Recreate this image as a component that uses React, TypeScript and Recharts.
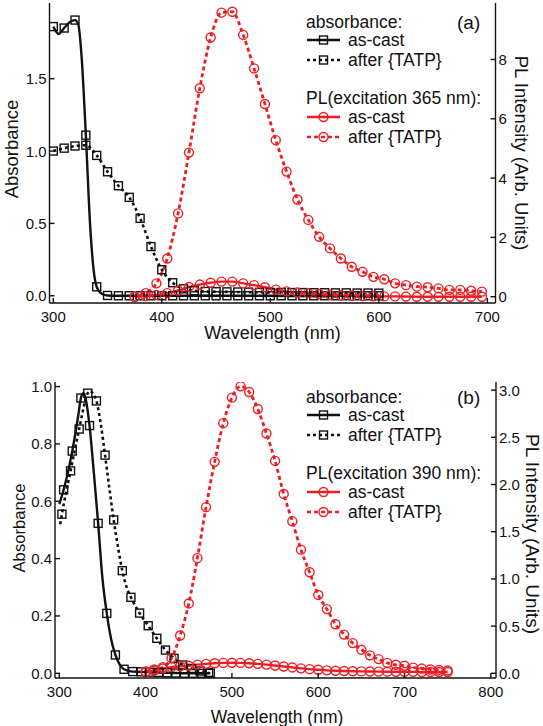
import React from 'react';
import { ComposedChart, Line, XAxis, YAxis } from 'recharts';

type Pt = [number, number];

const FONT = '"Liberation Sans", Arial, Helvetica, sans-serif';
const INK = '#111111';
const RED = '#ee1d23';

// ---------- panel (a) ----------
const aWaveTicks = [300, 400, 500, 600, 700];
const aAbsTicks = [0, 0.5, 1.0, 1.5];
const aPlTicks = [0, 2, 4, 6, 8];

const aAbsCast: Pt[] = [
  [300, 1.86], [305, 1.81], [310, 1.85], [315, 1.89], [320, 1.905], [323, 1.875],
  [326, 1.66], [330, 1.11], [334, 0.48], [337, 0.19], [340, 0.062], [345, 0.012],
  [350, 0.002], [360, 0], [370, 0], [380, 0], [390, 0], [400, 0], [410, 0], [420, 0],
  [430, 0], [440, 0], [450, 0], [460, 0], [470, 0], [480, 0], [490, 0], [500, 0],
  [510, 0], [520, 0], [530, 0], [540, 0], [550, 0], [560, 0], [570, 0], [580, 0],
  [590, 0], [600, 0],
];
const aAbsTatp: Pt[] = [
  [300, 1.0], [310, 1.02], [320, 1.035], [330, 1.04], [340, 0.97], [350, 0.857],
  [360, 0.76], [370, 0.68], [380, 0.535], [390, 0.34], [400, 0.18], [410, 0.09],
  [420, 0.048], [430, 0.035], [440, 0.03], [450, 0.028], [460, 0.027], [470, 0.026],
  [480, 0.025], [490, 0.024], [500, 0.023], [510, 0.023], [520, 0.022], [530, 0.022],
  [540, 0.021], [550, 0.021], [560, 0.02], [570, 0.02], [580, 0.019], [590, 0.019],
  [600, 0.018],
];
const aPlCast: Pt[] = [
  [375, 0], [385, 0.02], [395, 0.06], [405, 0.12], [415, 0.21], [425, 0.33], [435, 0.41],
  [445, 0.47], [455, 0.51], [465, 0.51], [475, 0.45], [485, 0.39], [495, 0.32],
  [505, 0.24], [515, 0.18], [525, 0.14], [535, 0.12], [545, 0.09], [555, 0.06],
  [565, 0.04], [575, 0.03], [585, 0.02], [595, 0.015], [605, 0.01], [615, 0.01],
  [625, 0.005], [635, 0], [645, 0], [655, 0], [665, 0], [675, 0], [685, 0], [695, 0],
];
const aPlTatp: Pt[] = [
  [375, 0], [385, 0.12], [395, 0.45], [405, 1.29], [415, 2.81], [425, 4.86], [435, 7.03],
  [445, 8.74], [455, 9.58], [465, 9.61], [475, 8.83], [485, 7.7], [495, 6.5],
  [505, 5.28], [515, 4.22], [525, 3.28], [535, 2.59], [545, 2.02], [555, 1.63],
  [565, 1.29], [575, 1.01], [585, 0.84], [595, 0.67], [605, 0.59], [615, 0.45],
  [625, 0.39], [635, 0.34], [645, 0.32], [655, 0.28], [665, 0.23], [675, 0.23],
  [685, 0.2], [695, 0.17],
];

// ---------- panel (b) ----------
const bWaveTicks = [300, 400, 500, 600, 700, 800];
const bAbsTicks = [0, 0.2, 0.4, 0.6, 0.8, 1.0];
const bPlTicks = [0, 0.5, 1.0, 1.5, 2.0, 2.5, 3.0];

const bAbsCast: Pt[] = [
  [300, 0.59], [305, 0.64], [315, 0.775], [322, 0.9], [325, 0.96], [328, 0.977],
  [331, 0.95], [335, 0.864], [340, 0.7], [345, 0.523], [350, 0.33], [355, 0.209],
  [360, 0.12], [365, 0.064], [370, 0.03], [375, 0.014], [385, 0.006], [395, 0.005],
  [405, 0.004], [415, 0.003], [425, 0.002], [435, 0.001], [445, 0], [455, 0],
  [465, 0], [475, 0],
];
const bAbsTatp: Pt[] = [
  [301, 0.52], [303, 0.555], [313, 0.706], [323, 0.852], [330, 0.95], [333, 0.977],
  [336, 0.985], [339, 0.975], [343, 0.95], [348, 0.87], [353, 0.761], [358, 0.645],
  [363, 0.535], [368, 0.44], [373, 0.358], [378, 0.3], [383, 0.265], [393, 0.21],
  [403, 0.166], [413, 0.122], [423, 0.081], [433, 0.052], [443, 0.029], [453, 0.017],
  [463, 0.008], [473, 0.003],
];
const bPlCast: Pt[] = [
  [400, 0.01], [410, 0.03], [420, 0.05], [430, 0.065], [440, 0.074], [450, 0.08],
  [460, 0.092], [470, 0.1], [480, 0.106], [490, 0.11], [500, 0.112], [510, 0.11],
  [520, 0.106], [530, 0.1], [540, 0.092], [550, 0.082], [560, 0.072], [570, 0.062],
  [580, 0.052], [590, 0.044], [600, 0.037], [610, 0.031], [620, 0.027], [630, 0.024],
  [640, 0.022], [650, 0.02], [660, 0.019], [670, 0.018], [680, 0.017], [690, 0.016],
  [700, 0.015], [710, 0.015], [720, 0.014], [730, 0.014], [740, 0.013], [750, 0.013],
];
const bPlTatp: Pt[] = [
  [400, 0.02], [410, 0.04], [420, 0.065], [430, 0.16], [440, 0.4], [450, 0.74],
  [460, 1.22], [470, 1.76], [480, 2.24], [490, 2.65], [500, 2.92], [510, 3.04],
  [520, 2.98], [530, 2.8], [540, 2.54], [550, 2.25], [560, 1.9], [570, 1.61],
  [580, 1.31], [590, 1.07], [600, 0.83], [610, 0.68], [620, 0.52], [630, 0.41],
  [640, 0.32], [650, 0.25], [660, 0.19], [670, 0.15], [680, 0.11], [690, 0.09],
  [700, 0.08], [710, 0.06], [720, 0.05], [730, 0.04], [740, 0.035], [750, 0.03],
];

const toRows = (pts: Pt[]) => pts.map(([x, y]) => ({ x, y }));

// markers only on the measured points (nm % 10 === rest)
const squareDot = (rest: number) => (p: any) => {
  const show = Math.round(p.payload.x) % 10 === rest;
  if (!show || p.cx == null || p.cy == null) return <g key={`s${p.index}`} />;
  return (
    <rect key={`s${p.index}`} x={p.cx - 4} y={p.cy - 4} width={8} height={8}
      fill="none" stroke={INK} strokeWidth={1.4} />
  );
};
const circleDot = (p: any) => {
  if (p.cx == null || p.cy == null) return <g key={`c${p.index}`} />;
  return <circle key={`c${p.index}`} cx={p.cx} cy={p.cy} r={4.5} fill="none" stroke={RED} strokeWidth={1.4} />;
};

const tickFont = { fontSize: 15, fontFamily: FONT, fill: INK };

const makeTick = (side: 'left' | 'right' | 'bottom', fmt: (v: number) => string) => (p: any) => {
  const { x, y, payload, index } = p;
  const label = fmt(payload.value);
  if (side === 'bottom') {
    return (
      <g key={`t${index}`}>
        <line x1={x} x2={x} y1={y} y2={y - 5} stroke={INK} strokeWidth={1.4} />
        <text x={x} y={y + 13} textAnchor="middle" dominantBaseline="central" {...tickFont}>{label}</text>
      </g>
    );
  }
  const dir = side === 'left' ? 1 : -1;
  return (
    <g key={`t${index}`}>
      <line x1={x} x2={x + 5 * dir} y1={y} y2={y} stroke={INK} strokeWidth={1.4} />
      <text x={x - 3 * dir} y={y} textAnchor={side === 'left' ? 'end' : 'start'}
        dominantBaseline="central" {...tickFont}>{label}</text>
    </g>
  );
};

const axisLine = { stroke: INK, strokeWidth: 1.4 };

interface PanelProps {
  height: number;
  top: number;
  leftW: number;
  rightW: number;
  xh: number;
  xDomain: [number, number];
  absDomain: [number, number];
  plDomain: [number, number];
  xTicks: number[];
  absTicks: number[];
  plTicks: number[];
  plFmt: (v: number) => string;
  absCast: Pt[];
  absTatp: Pt[];
  plCast: Pt[];
  plTatp: Pt[];
  castRest: number;
  tatpRest: number;
}

function Panel(p: PanelProps) {
  return (
    <ComposedChart width={543} height={p.height} margin={{ top: p.top, right: 0, bottom: 0, left: 0 }}>
      <XAxis xAxisId="b" type="number" dataKey="x" domain={p.xDomain} allowDataOverflow
        ticks={p.xTicks} interval={0} height={p.xh} tickSize={0} tickMargin={0}
        tickLine={false} axisLine={axisLine} tick={makeTick('bottom', (v) => String(v))} />
      <XAxis xAxisId="t" orientation="top" type="number" dataKey="x" domain={p.xDomain}
        allowDataOverflow height={0} tick={false} tickLine={false} axisLine={axisLine} />
      <YAxis yAxisId="abs" type="number" domain={p.absDomain} allowDataOverflow ticks={p.absTicks}
        interval={0} width={p.leftW} tickSize={0} tickMargin={0} tickLine={false}
        axisLine={axisLine} tick={makeTick('left', (v) => v.toFixed(1))} />
      <YAxis yAxisId="pl" orientation="right" type="number" domain={p.plDomain} allowDataOverflow
        ticks={p.plTicks} interval={0} width={p.rightW} tickSize={0} tickMargin={0}
        tickLine={false} axisLine={axisLine} tick={makeTick('right', p.plFmt)} />

      <Line xAxisId="b" yAxisId="abs" data={toRows(p.absCast)} dataKey="y" type="monotone"
        stroke={INK} strokeWidth={2.4} dot={squareDot(p.castRest)} activeDot={false}
        isAnimationActive={false} />
      <Line xAxisId="b" yAxisId="abs" data={toRows(p.absTatp)} dataKey="y" type="monotone"
        stroke={INK} strokeWidth={2.6} strokeDasharray="3 3" dot={squareDot(p.tatpRest)}
        activeDot={false} isAnimationActive={false} />
      <Line xAxisId="b" yAxisId="pl" data={toRows(p.plCast)} dataKey="y" type="monotone"
        stroke={RED} strokeWidth={2.4} dot={circleDot} activeDot={false} isAnimationActive={false} />
      <Line xAxisId="b" yAxisId="pl" data={toRows(p.plTatp)} dataKey="y" type="monotone"
        stroke={RED} strokeWidth={2.8} strokeDasharray="4 3" dot={circleDot} activeDot={false}
        isAnimationActive={false} />
    </ComposedChart>
  );
}

function LegendBlock({ y0, tag, excitation }: { y0: number; tag: string; excitation: string }) {
  const txt = { fontFamily: FONT, fontSize: 17.5, fill: INK, dominantBaseline: 'central' as const };
  const rows = [
    { dy: 18.3, color: INK, dash: undefined, mark: 'sq', label: 'as-cast' },
    { dy: 38.3, color: INK, dash: '3 3', mark: 'sq', label: 'after {TATP}' },
    { dy: 95.3, color: RED, dash: undefined, mark: 'ci', label: 'as-cast' },
    { dy: 115.3, color: RED, dash: '4 3', mark: 'ci', label: 'after {TATP}' },
  ];
  return (
    <g>
      <text x={306} y={y0} {...txt}>absorbance:</text>
      <text x={457} y={y0 + 1} {...txt} fontSize={19}>{tag}</text>
      <text x={306} y={y0 + 76.5} {...txt}>PL(excitation {excitation} nm):</text>
      {rows.map((r, i) => (
        <g key={i}>
          <line x1={307} x2={340} y1={y0 + r.dy} y2={y0 + r.dy} stroke={r.color}
            strokeWidth={2.6} strokeDasharray={r.dash} />
          {r.mark === 'sq' ? (
            <rect x={319.5} y={y0 + r.dy - 4} width={8} height={8} fill="none" stroke={INK} strokeWidth={1.4} />
          ) : (
            <circle cx={323.5} cy={y0 + r.dy} r={4.5} fill="none" stroke={RED} strokeWidth={1.4} />
          )}
          <text x={348} y={y0 + r.dy} {...txt}>{r.label}</text>
        </g>
      ))}
    </g>
  );
}

export default function App() {
  const title = { fontFamily: FONT, fill: INK, textAnchor: 'middle' as const, dominantBaseline: 'central' as const };
  return (
    <div style={{ position: 'absolute', left: 0, top: 0, width: 543, height: 726, background: '#fff' }}>
      <div style={{ position: 'absolute', left: 0, top: 0 }}>
        <Panel height={340} top={3} leftW={49.5} rightW={47.5} xh={37}
          xDomain={[296.5, 707.5]} absDomain={[-0.05, 2.023]} plDomain={[-0.212, 9.905]}
          xTicks={aWaveTicks} absTicks={aAbsTicks} plTicks={aPlTicks} plFmt={(v) => String(v)}
          absCast={aAbsCast} absTatp={aAbsTatp} plCast={aPlCast} plTatp={aPlTatp}
          castRest={0} tatpRest={0} />
      </div>
      <div style={{ position: 'absolute', left: 0, top: 345 }}>
        <Panel height={381} top={37} leftW={55} rightW={47} xh={48}
          xDomain={[295, 806]} absDomain={[-0.0164, 1.016]} plDomain={[-0.05, 3.086]}
          xTicks={bWaveTicks} absTicks={bAbsTicks} plTicks={bPlTicks} plFmt={(v) => v.toFixed(1)}
          absCast={bAbsCast} absTatp={bAbsTatp} plCast={bPlCast} plTatp={bPlTatp}
          castRest={5} tatpRest={3} />
      </div>
      <svg width={543} height={726} style={{ position: 'absolute', left: 0, top: 0, pointerEvents: 'none' }}>
        <text {...title} fontSize={18.5} transform="translate(11,149) rotate(-90)">Absorbance</text>
        <text {...title} fontSize={18.5} transform="translate(521,153) rotate(90)">PL Intensity (Arb. Units)</text>
        <text {...title} fontSize={18} x={272.5} y={333}>Wavelength (nm)</text>
        <LegendBlock y0={21.7} tag="(a)" excitation="365" />

        <text {...title} fontSize={16.7} transform="translate(19,528) rotate(-90)">Absorbance</text>
        <text {...title} fontSize={19} transform="translate(532,534) rotate(90)">PL Intensity (Arb. Units)</text>
        <text {...title} fontSize={17.5} x={277} y={717}>Wavelength (nm)</text>
        <LegendBlock y0={396.7} tag="(b)" excitation="390" />
      </svg>
    </div>
  );
}
